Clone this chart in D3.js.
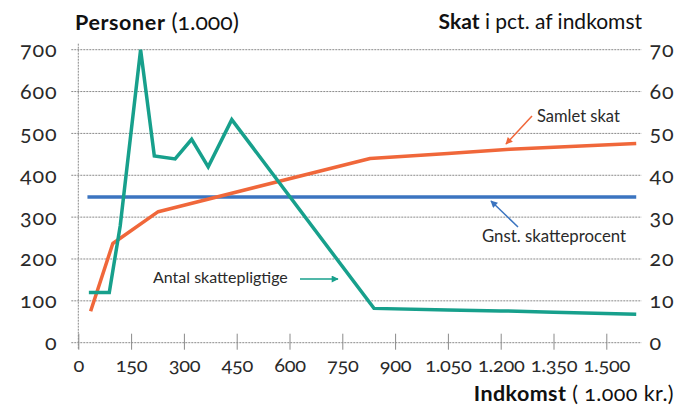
<!DOCTYPE html>
<html><head><meta charset="utf-8">
<script src="https://cdn.jsdelivr.net/npm/d3@7"></script>
<style>
html,body{margin:0;padding:0;background:#fff;}
svg{display:block;font-family:Lato,"Open Sans",sans-serif;font-variant-numeric:oldstyle-nums;}
svg text{font-family:Lato,"Open Sans",sans-serif;font-variant-numeric:oldstyle-nums;}
</style></head>
<body>
<svg id="c" width="676" height="407"></svg>
<script>
// ---- data ----
const xTicks = [0,150,300,450,600,750,900,1050,1200,1350,1500];
const yLeftTicks = [0,100,200,300,400,500,600,700];
const yRightTicks = [0,10,20,30,40,50,60,70];

const personsIncome = [30, 88, 119, 177, 216, 275, 322, 369, 436, 840, 1050, 1200, 1350, 1585];
const personsCount  = [120, 120, 279, 700, 446, 439, 486, 420, 533, 82, 78, 76, 73, 68];

const samletIncome = [35, 98, 227, 829, 1050, 1226, 1585];
const samletSkat   = [7.5, 23.7, 31.3, 44.0, 45.2, 46.2, 47.6];

const gnstIncome = [26, 300, 600, 900, 1200, 1585];
const gnstSkat   = [34.8, 34.8, 34.8, 34.8, 34.8, 34.8];

const labelsSeries = ["Antal skattepligtige", "Samlet skat", "Gnst. skatteprocent"];

// ---- layout ----
const svg = d3.select("#c");
const L = 78.3, R = 641.5, T = 49.7, B = 342.7;
const x = d3.scaleLinear().domain([0,1600]).range([L,R]);
const yL = d3.scaleLinear().domain([0,700]).range([B,T]);
const yR = d3.scaleLinear().domain([0,70]).range([B,T]);

const loc = d3.formatLocale({decimal:",", thousands:".", grouping:[3], currency:["","kr."]});
const fmt = loc.format(",d");

const teal = "#17a08c", orange = "#f0673a", blue = "#3b74c0", grid = "#8a8a8a", txt = "#2a2a2a";
const FONT = "Lato, 'Open Sans', sans-serif";
const TICKFS = 21.5;

// gridlines
svg.append("g").selectAll("line").data(yLeftTicks.filter(d=>d>0)).join("line")
  .attr("x1", L-7).attr("x2", R).attr("y1", d=>yL(d)).attr("y2", d=>yL(d))
  .attr("stroke", grid).attr("stroke-width", 1).attr("stroke-dasharray", "2,1");

// x axis
const xAxis = svg.append("g").attr("transform", `translate(0,${B})`)
  .call(d3.axisBottom(x).tickValues(xTicks).tickFormat(fmt).tickSizeInner(7).tickSizeOuter(0).tickPadding(8));
xAxis.attr("font-family", FONT);
xAxis.select(".domain").remove();
xAxis.selectAll(".tick line").attr("y1", -9).attr("y2", 7).attr("stroke", grid);
xAxis.selectAll("text").attr("font-size", 20).attr("fill", txt).attr("letter-spacing", -0.3);
svg.append("line").attr("x1", L-7).attr("x2", R).attr("y1", B).attr("y2", B)
  .attr("stroke", grid).attr("stroke-dasharray", "2,1");

// left axis
const yAxisL = svg.append("g").attr("transform", `translate(${L},0)`)
  .call(d3.axisLeft(yL).tickValues(yLeftTicks).tickFormat(d3.format("d")).tickSize(7).tickPadding(14));
yAxisL.attr("font-family", FONT);
yAxisL.select(".domain").remove();
yAxisL.selectAll(".tick line").remove();
yAxisL.selectAll("text").attr("font-size", TICKFS).attr("fill", txt).attr("letter-spacing", 0.8);
svg.append("line").attr("x1", L).attr("x2", L).attr("y1", T-6).attr("y2", B+7)
  .attr("stroke", grid).attr("stroke-dasharray", "2,1");

// right axis
const yAxisR = svg.append("g").attr("transform", `translate(${R},0)`)
  .call(d3.axisRight(yR).tickValues(yRightTicks).tickFormat(d3.format("d")).tickSize(0).tickPadding(8));
yAxisR.attr("font-family", FONT);
yAxisR.select(".domain").remove();
yAxisR.selectAll("text").attr("font-size", TICKFS).attr("fill", txt).attr("letter-spacing", 0.8);

// lines
const lineP = d3.line().x((d,i)=>x(personsIncome[i])).y(d=>yL(d));
const lineS = d3.line().x((d,i)=>x(samletIncome[i])).y(d=>yR(d));
const lineG = d3.line().x((d,i)=>x(gnstIncome[i])).y(d=>yR(d));

svg.append("path").datum(gnstSkat).attr("d", lineG).attr("fill","none")
  .attr("stroke", blue).attr("stroke-width", 3.5);
svg.append("path").datum(samletSkat).attr("d", lineS).attr("fill","none")
  .attr("stroke", orange).attr("stroke-width", 3.5).attr("stroke-linejoin","round");
svg.append("path").datum(personsCount).attr("d", lineP).attr("fill","none")
  .attr("stroke", teal).attr("stroke-width", 3.5).attr("stroke-linejoin","miter");

// arrow markers
function marker(id, color){
  svg.append("defs").append("marker").attr("id", id).attr("viewBox","0 0 10 10")
    .attr("refX", 9).attr("refY", 5).attr("markerWidth", 9).attr("markerHeight", 7)
    .attr("markerUnits","userSpaceOnUse").attr("orient","auto")
    .append("path").attr("d","M0,0 L10,5 L0,10 z").attr("fill", color);
}
marker("aT", teal); marker("aO", orange); marker("aB", blue);

// annotations
svg.append("text").attr("x", 153).attr("y", 283).attr("font-size", 16).attr("fill", txt)
  .text(labelsSeries[0]);
svg.append("line").attr("x1", 300).attr("y1", 279).attr("x2", 338).attr("y2", 279)
  .attr("stroke", teal).attr("stroke-width", 1.5).attr("marker-end","url(#aT)");

svg.append("text").attr("x", 537).attr("y", 122).attr("font-size", 16.5).attr("fill", txt)
  .text(labelsSeries[1]);
svg.append("line").attr("x1", 532).attr("y1", 116).attr("x2", 506).attr("y2", 144)
  .attr("stroke", orange).attr("stroke-width", 1.5).attr("marker-end","url(#aO)");

svg.append("text").attr("x", 482).attr("y", 242).attr("font-size", 16.8).attr("fill", txt)
  .text(labelsSeries[2]);
svg.append("line").attr("x1", 518).attr("y1", 227).attr("x2", 491).attr("y2", 201)
  .attr("stroke", blue).attr("stroke-width", 1.5).attr("marker-end","url(#aB)");

// titles
const t1 = svg.append("text").attr("x", 75).attr("y", 30).attr("font-size", 21.5).attr("fill", "#111");
t1.append("tspan").attr("font-weight", 700).attr("letter-spacing", 0.6).text("Personer");
t1.append("tspan").attr("font-weight", 400).attr("font-size", 23).text(" (1.000)");

const t2 = svg.append("text").attr("x", 642).attr("y", 29).attr("text-anchor","end").attr("font-size", 21).attr("fill", "#111");
t2.append("tspan").attr("font-weight", 700).text("Skat");
t2.append("tspan").attr("font-weight", 400).text(" i pct. af indkomst");

const t3 = svg.append("text").attr("x", 674).attr("y", 401).attr("text-anchor","end").attr("font-size", 21.5).attr("fill", "#111");
t3.append("tspan").attr("font-weight", 700).attr("letter-spacing", 0.4).text("Indkomst");
t3.append("tspan").attr("font-weight", 400).attr("letter-spacing", 0.4).text(" ( 1.000 kr.)");
</script>
</body></html>
